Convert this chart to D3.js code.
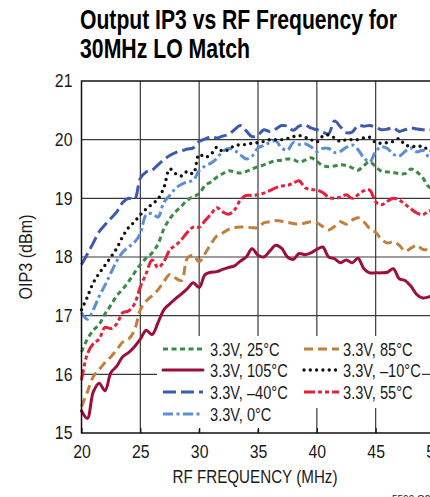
<!DOCTYPE html>
<html><head><meta charset="utf-8">
<script src="https://cdn.jsdelivr.net/npm/d3@7"></script>
<style>
html,body{margin:0;padding:0;background:#fff;}
svg{display:block;}
text{font-family:"Liberation Sans",Arial,Helvetica,sans-serif;fill:#1a1a1a;}
</style></head>
<body>
<script>
// ---------------- data ----------------
const freqs = d3.range(20, 50.01, 0.5); // RF frequency grid (MHz), 61 points
const xTicks = [20, 25, 30, 35, 40, 45, 50];
const yTicks = [15, 16, 17, 18, 19, 20, 21];

const v25 = [16.38,16.60,16.75,16.85,17.03,17.18,17.34,17.45,17.58,17.73,17.87,17.98,18.07,18.22,18.48,18.65,18.77,18.87,18.97,19.03,19.08,19.22,19.28,19.36,19.42,19.47,19.45,19.43,19.46,19.50,19.54,19.57,19.61,19.64,19.65,19.67,19.66,19.62,19.65,19.69,19.63,19.56,19.54,19.55,19.57,19.56,19.52,19.48,19.56,19.62,19.54,19.46,19.45,19.44,19.42,19.42,19.50,19.45,19.35,19.20,19.15];
const v105 = [15.38,15.25,15.70,15.85,15.72,16.03,16.14,16.30,16.37,16.47,16.60,16.75,16.68,16.88,17.10,17.20,17.29,17.37,17.46,17.56,17.48,17.70,17.74,17.75,17.79,17.82,17.85,17.93,18.00,18.14,18.03,18.00,18.10,18.20,18.15,18.00,17.96,18.06,18.04,18.07,18.13,18.17,18.00,17.97,17.90,17.95,17.90,17.98,17.80,17.73,17.73,17.73,17.74,17.80,17.63,17.60,17.50,17.36,17.30,17.32,17.35];
const vM40 = [17.87,18.05,18.24,18.43,18.55,18.66,18.77,18.93,19.00,18.98,19.34,19.45,19.48,19.57,19.66,19.73,19.78,19.81,19.84,19.86,19.97,20.01,20.05,20.03,20.06,20.09,20.17,20.24,20.15,20.05,20.08,20.17,20.14,20.18,20.24,20.23,20.16,20.23,20.25,20.20,20.17,20.13,20.10,20.32,20.22,20.12,20.13,20.24,20.23,20.24,20.21,20.17,20.18,20.20,20.14,20.17,20.20,20.18,20.17,20.17,20.17];
const v0 = [17.05,16.94,17.10,17.33,17.52,17.73,17.93,18.08,18.17,18.25,18.40,18.72,18.74,18.68,18.93,19.05,19.17,19.24,19.28,19.31,19.47,19.55,19.60,19.68,19.80,19.85,19.82,19.74,19.67,19.72,19.86,19.90,19.95,19.98,19.86,19.82,19.95,19.92,19.93,19.88,19.80,19.85,19.85,19.78,19.80,19.87,19.91,19.83,19.69,19.62,19.80,19.88,19.85,19.75,19.72,19.80,19.86,19.79,19.82,19.71,19.65];
const v85 = [15.45,15.70,15.96,16.08,16.20,16.30,16.42,16.55,16.60,16.75,17.10,17.25,17.34,17.44,17.58,17.70,17.64,17.60,17.98,18.03,17.92,18.06,18.22,18.36,18.41,18.47,18.50,18.51,18.51,18.50,18.50,18.58,18.60,18.62,18.61,18.59,18.57,18.56,18.58,18.60,18.58,18.52,18.46,18.52,18.60,18.56,18.63,18.67,18.60,18.48,18.42,18.30,18.24,18.26,18.20,18.10,18.15,18.20,18.13,18.12,18.10];
const vM10 = [17.10,17.32,17.56,17.72,17.86,18.00,18.15,18.35,18.50,18.60,18.72,18.82,18.90,18.99,19.18,19.50,19.42,19.38,19.46,19.42,19.75,19.70,19.75,19.87,19.80,19.83,19.90,19.91,19.92,19.94,19.95,19.97,20.00,20.00,20.00,20.02,20.05,20.07,20.04,20.00,19.96,20.06,20.08,20.03,19.97,20.00,20.00,20.00,20.03,20.04,19.95,19.94,19.95,19.97,20.02,19.91,19.89,19.88,19.89,19.82,19.80];
const v55 = [15.90,16.35,16.52,16.60,16.80,16.78,16.86,17.05,17.08,17.20,17.49,17.72,17.95,17.82,17.92,18.12,18.20,18.30,18.42,18.51,18.51,18.62,18.73,18.84,18.77,18.73,18.80,18.97,19.05,19.05,19.06,19.09,19.13,19.18,19.21,19.22,19.26,19.30,19.18,19.15,19.14,19.10,19.02,19.00,19.02,19.06,19.00,19.06,19.13,19.14,18.94,18.89,18.95,19.00,18.97,18.90,18.82,18.75,18.72,18.78,18.80];

const seriesLabels = ["3.3V, 25°C","3.3V, 105°C","3.3V, –40°C","3.3V, 0°C","3.3V, 85°C","3.3V, –10°C","3.3V, 55°C"];
const seriesValues = [v25, v105, vM40, v0, v85, vM10, v55];

// ---------------- styles ----------------
const styles = [
  {color:"#3a8c45", dash:"5 3.5", width:3, cap:"butt"},
  {color:"#9c0f3b", dash:null, width:3, cap:"round"},
  {color:"#3b5cae", dash:"13 5", width:3, cap:"butt"},
  {color:"#5b8fd3", dash:"10 3.5 3 3.5", width:3, cap:"butt"},
  {color:"#c17f3a", dash:"9 5", width:3, cap:"butt"},
  {color:"#111111", dash:"0 6.3", width:3.4, cap:"round"},
  {color:"#e3213b", dash:"11 3 4 3 4 3", width:3, cap:"butt"}
];
const legendPos = [[0,0],[0,1],[0,2],[0,3],[1,0],[1,1],[1,2]];

const W = 430, H = 497;
const svg = d3.select("body").append("svg").attr("width", W).attr("height", H);

const x = d3.scaleLinear().domain([20, 50]).range([81.5, 434.5]);
const y = d3.scaleLinear().domain([15, 21]).range([433, 81]);

// condense text horizontally (Helvetica Condensed look)
function condense(sel, factor) {
  sel.each(function () {
    const w = this.getComputedTextLength();
    d3.select(this).attr("textLength", w * factor).attr("lengthAdjust", "spacingAndGlyphs");
  });
}
function fitWidth(sel, width) {
  sel.attr("textLength", width).attr("lengthAdjust", "spacingAndGlyphs");
}

// title
const title = svg.append("g").attr("font-weight", "bold").attr("font-size", 28);
title.append("text").attr("x", 80).attr("y", 29).text("Output IP3 vs RF Frequency for")
  .style("fill", "#000").call(fitWidth, 317);
title.append("text").attr("x", 80).attr("y", 58).text("30MHz LO Match")
  .style("fill", "#000").call(fitWidth, 170);

// grid
const grid = svg.append("g").attr("stroke", "#3a3a3a").attr("stroke-width", 1.2);
grid.selectAll("line.v").data(xTicks.slice(1, -1)).join("line")
  .attr("x1", d => x(d)).attr("x2", d => x(d)).attr("y1", y(21)).attr("y2", y(15));
grid.selectAll("line.h").data(yTicks.slice(1, -1)).join("line").attr("class","h")
  .attr("x1", x(20)).attr("x2", x(50)).attr("y1", d => y(d)).attr("y2", d => y(d));

// series
const line = d3.line().x((d, i) => x(freqs[i])).y(d => y(d)).curve(d3.curveCatmullRom.alpha(0.5));
const lines = svg.append("g").attr("fill", "none");
seriesValues.forEach((vals, k) => {
  const s = styles[k];
  lines.append("path").attr("d", line(vals)).attr("stroke", s.color)
    .attr("stroke-width", s.width).attr("stroke-dasharray", s.dash)
    .attr("stroke-linecap", s.cap).attr("stroke-linejoin", "round");
});

// legend background
svg.append("rect").attr("x", 157).attr("y", 336).attr("width", 265).attr("height", 72).attr("fill", "#fff");
svg.append("rect").attr("x", 157).attr("y", 407).attr("width", 143).attr("height", 22).attr("fill", "#fff");

// frame
svg.append("path").attr("fill", "none").attr("stroke", "#111").attr("stroke-width", 1.5)
  .attr("d", `M${x(50)},${y(21)}H${x(20)}V${y(15)}H${x(50)}`);

// axes
const xAxis = svg.append("g").attr("transform", `translate(0,${y(15)})`)
  .call(d3.axisBottom(x).tickValues(xTicks).tickSize(-5).tickPadding(12).tickFormat(d3.format("d")));
const yAxis = svg.append("g").attr("transform", `translate(${x(20)},0)`)
  .call(d3.axisLeft(y).tickValues(yTicks).tickSize(0).tickPadding(9).tickFormat(d3.format("d")));
[xAxis, yAxis].forEach(a => {
  a.select(".domain").remove();
  a.selectAll("line").attr("stroke", "#111").attr("stroke-width", 1.2);
  a.selectAll("text").attr("font-size", 18).attr("font-family", null).style("fill", "#1a1a1a")
    .call(condense, 0.88);
});

// axis titles
svg.append("text").attr("x", 255).attr("y", 483).attr("text-anchor", "middle").attr("font-size", 18)
  .text("RF FREQUENCY (MHz)").call(fitWidth, 165);
svg.append("text").attr("transform", "translate(32,257) rotate(-90)").attr("text-anchor", "middle")
  .attr("font-size", 18).text("OIP3 (dBm)").call(fitWidth, 85);

// legend
const colX = [[163, 203, 210], [304, 339, 343]];
const rowY = [349, 370, 392, 414];
const leg = svg.append("g");
seriesLabels.forEach((lab, k) => {
  const [c, r] = legendPos[k];
  const s = styles[k];
  leg.append("line").attr("x1", colX[c][0]).attr("x2", colX[c][1]).attr("y1", rowY[r]).attr("y2", rowY[r])
    .attr("stroke", s.color).attr("stroke-width", s.width).attr("stroke-dasharray", s.dash)
    .attr("stroke-linecap", s.cap);
  leg.append("text").attr("x", colX[c][2]).attr("y", rowY[r] + 7).attr("font-size", 19).text(lab)
    .call(condense, 0.77);
});

// figure code
svg.append("text").attr("x", 392).attr("y", 503).attr("font-size", 10).text("5599 G26");
</script>
</body></html>
